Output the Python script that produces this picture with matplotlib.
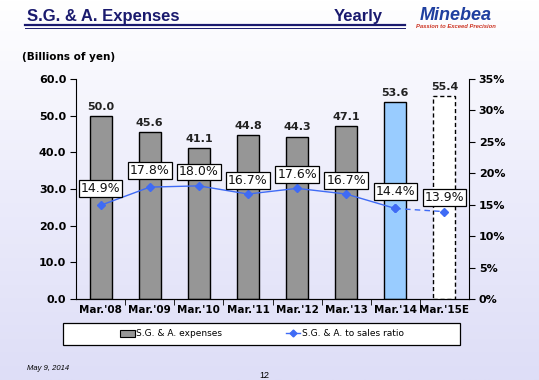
import numpy as np
import matplotlib
matplotlib.use("Agg")
import matplotlib.pyplot as plt
from matplotlib.patches import Rectangle
from matplotlib.lines import Line2D
from matplotlib.colors import LinearSegmentedColormap

# data
periods = ["Mar.'08", "Mar.'09", "Mar.'10", "Mar.'11", "Mar.'12", "Mar.'13", "Mar.'14", "Mar.'15E"]
sga_expenses = [50.0, 45.6, 41.1, 44.8, 44.3, 47.1, 53.6, 55.4]
sga_ratio = [14.9, 17.8, 18.0, 16.7, 17.6, 16.7, 14.4, 13.9]

NAVY = "#1a1a6e"
LINE_BLUE = "#3f6bf5"

plt.rcParams["font.family"] = ["DejaVu Sans"]

fig = plt.figure(figsize=(5.39, 3.80), dpi=100)

# slide background: white at top fading to lavender
bg = fig.add_axes([0, 0, 1, 1], zorder=-10)
grad = np.linspace(0, 1, 256).reshape(-1, 1)
bg_cmap = LinearSegmentedColormap.from_list("bg", ["#ffffff", "#ececfb", "#dedef7"])
bg.imshow(grad, aspect="auto", cmap=bg_cmap, extent=[0, 1, 0, 1], origin="upper")
bg.set_xlim(0, 1)
bg.set_ylim(0, 1)
bg.axis("off")

# header
fig.text(27 / 539, 1 - 17 / 380, "S.G. & A. Expenses", fontsize=12, fontweight="bold",
         color=NAVY, family="Liberation Sans", va="center", ha="left")
fig.text(383 / 539, 1 - 17 / 380, "Yearly", fontsize=12, fontweight="bold",
         color=NAVY, family="Liberation Sans", va="center", ha="right")
fig.add_artist(Line2D([25 / 539, 405 / 539], [1 - 25 / 380, 1 - 25 / 380], color=NAVY, lw=1.6))
fig.add_artist(Line2D([25 / 539, 405 / 539], [1 - 28 / 380, 1 - 28 / 380], color=NAVY, lw=0.7))
fig.text(456 / 539, 1 - 15 / 380, "Minebea", fontsize=13, fontweight="bold", style="italic",
         color="#1f3f9f", family="Liberation Sans", va="center", ha="center")
fig.text(456 / 539, 1 - 26 / 380, "Passion to Exceed Precision", fontsize=4.2, style="italic",
         fontweight="bold", color="#cc3322", family="Liberation Sans", va="center", ha="center")

fig.text(22 / 539, 1 - 57 / 380, "(Billions of yen)", fontsize=7.5, fontweight="bold",
         color="black", va="center", ha="left")

# main axes
ax = fig.add_axes([76 / 539, 1 - 299 / 380, 393 / 539, 220 / 380])
ax.patch.set_alpha(0)
x = np.arange(len(periods))

face = ["#969696"] * 6 + ["#99ccff", "white"]
bars = ax.bar(x, sga_expenses, width=0.45, color=face, edgecolor="black", linewidth=1.0, zorder=2)
bars[-1].set_linestyle((0, (3, 2)))

for xi, v in zip(x, sga_expenses):
    ax.annotate(f"{v:.1f}", (xi, v), xytext=(0, 3), textcoords="offset points",
                ha="center", va="bottom", fontsize=8, fontweight="bold", color="#222222")

ax.set_xlim(-0.5, len(periods) - 0.5)
ax.set_ylim(0, 60)
ax.set_yticks(np.arange(0, 61, 10))
ax.set_yticklabels([f"{t:.1f}" for t in np.arange(0, 61, 10)], fontsize=8, fontweight="bold")
ax.set_xticks(x)
ax.set_xticklabels(periods, fontsize=7.5, fontweight="bold")
ax.tick_params(axis="x", length=0, pad=4)
ax.set_xticks(np.arange(0.5, len(periods) - 0.5), minor=True)
ax.tick_params(axis="x", which="minor", length=4, direction="out")
ax.tick_params(axis="y", length=4, direction="out", pad=3)
for s in ["top", "right"]:
    ax.spines[s].set_visible(False)

# ratio on secondary axis
ax2 = ax.twinx()
ax2.set_ylim(0, 35)
ax2.set_yticks(np.arange(0, 36, 5))
ax2.set_yticklabels([f"{t}%" for t in range(0, 36, 5)], fontsize=8, fontweight="bold")
ax2.tick_params(axis="y", length=4, direction="out", pad=3)
ax2.spines["top"].set_visible(False)
ax2.spines["left"].set_visible(False)

ax2.plot(x[:-1], sga_ratio[:-1], color=LINE_BLUE, lw=1.0, marker="D", markersize=4, zorder=3)
ax2.plot(x[-2:], sga_ratio[-2:], color=LINE_BLUE, lw=1.0, ls=(0, (4, 3)), marker="D",
         markersize=4, zorder=3)

offsets = [12, 12, 10, 10, 10, 10, 12, 10]
for xi, v, off in zip(x, sga_ratio, offsets):
    ax2.annotate(f"{v:.1f}%", (xi, v), xytext=(0, off), textcoords="offset points",
                 ha="center", va="center", fontsize=9, color="#111111",
                 bbox=dict(boxstyle="square,pad=0.15", fc="white", ec="black", lw=0.9), zorder=5)

# legend in a boxed strip under the plot
fig.add_artist(Rectangle((63 / 539, 1 - 345 / 380), 397 / 539, 22 / 380, transform=fig.transFigure,
                         fc="white", ec="black", lw=0.9))
handles = [
    Rectangle((0, 0), 1, 1, fc="#969696", ec="black", lw=0.8),
    Line2D([], [], color=LINE_BLUE, lw=1.0, marker="D", markersize=3.5),
]
fig.legend(handles, ["S.G. & A. expenses", "S.G. & A. to sales ratio"], loc="center",
           bbox_to_anchor=(262 / 539, 1 - 334 / 380), ncol=2, frameon=False, fontsize=6.5,
           columnspacing=7, handlelength=1.6, handletextpad=0.2)

# footer
fig.text(27 / 539, 1 - 369 / 380, "May 9, 2014", fontsize=5.5, style="italic",
         family="Liberation Sans", va="center", ha="left")
fig.text(264 / 539, 1 - 375 / 380, "12", fontsize=6.5, family="Liberation Sans",
         va="center", ha="center")

fig.savefig("out.png", dpi=100)
